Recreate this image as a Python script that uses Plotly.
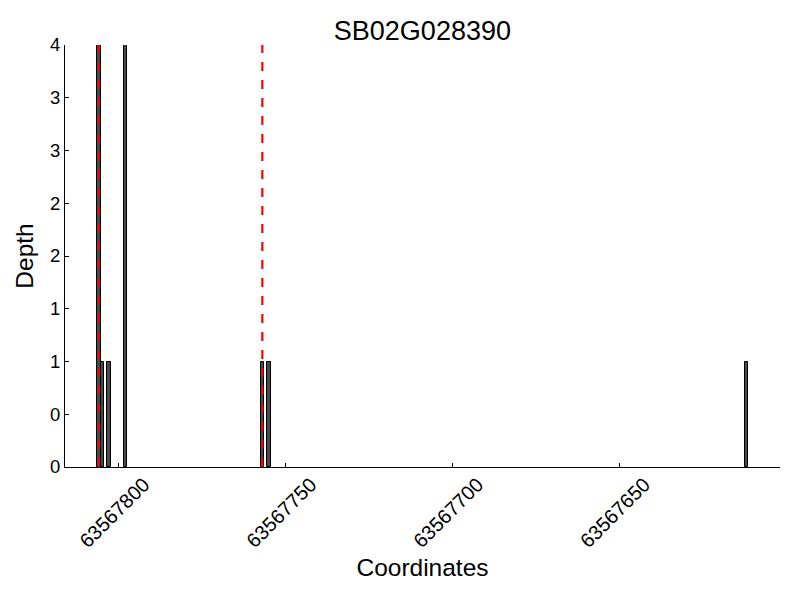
import plotly.graph_objects as go

positions = [63567806, 63567805, 63567803, 63567798, 63567757, 63567755, 63567612]
depths = [4, 1, 1, 4, 1, 1, 1]
red_lines = [63567806, 63567757]
y_tickvals = [0, 0.5, 1, 1.5, 2, 2.5, 3, 3.5, 4]
y_ticktext = ["0", "0", "1", "1", "2", "2", "3", "3", "4"]
x_tickvals = [63567800, 63567750, 63567700, 63567650]
title = "SB02G028390"

fig = go.Figure()
fig.add_trace(go.Bar(x=positions, y=depths, width=1.0,
                     marker=dict(color="#4a4a4a", line=dict(color="black", width=1)),
                     showlegend=False))
for p in red_lines:
    fig.add_trace(go.Scatter(x=[p, p], y=[0, 4], mode="lines",
                             line=dict(color="red", width=2.2, dash="dash"),
                             showlegend=False, hoverinfo="skip"))

font = "Liberation Sans, Arial, sans-serif"
fig.update_layout(
    width=800, height=600,
    margin=dict(l=57, r=28, t=37, b=141),
    plot_bgcolor="white", paper_bgcolor="white",
    title=dict(text=title, x=0.518, xanchor="center", y=0.963, yanchor="middle",
               font=dict(family=font, size=27, color="black"), automargin=False),
    font=dict(family=font, color="black"),
    bargap=0,
)
xmin = min(positions) - 0.4
xmax = max(positions) + 0.4
pad = (xmax - xmin) * 0.05
fig.update_xaxes(range=[xmax + pad, xmin - pad], tickvals=x_tickvals, tickformat="d",
                 tickangle=-45, ticks="inside", ticklen=4, tickcolor="black",
                 showline=True, linecolor="black", linewidth=1, showgrid=False,
                 zeroline=False, tickfont=dict(size=20), automargin=False,
                 ticklabelshift=-25, ticklabelstandoff=-3,
                 title=dict(text="Coordinates", font=dict(size=24.5), standoff=8))
fig.update_yaxes(range=[0, 4], tickvals=y_tickvals, ticktext=y_ticktext,
                 ticks="inside", ticklen=4, tickcolor="black",
                 showline=True, linecolor="black", linewidth=1, showgrid=False,
                 zeroline=False, tickfont=dict(size=18.5), automargin=False,
                 title=dict(text="Depth", font=dict(size=24.5), standoff=9))
fig.write_html("out.html")
